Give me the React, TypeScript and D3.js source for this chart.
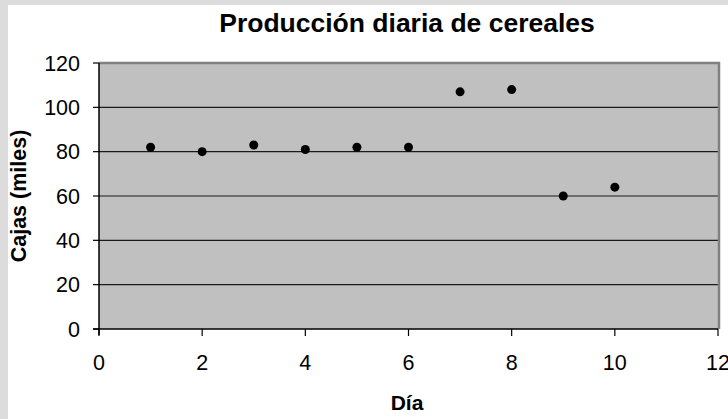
import React from "react";
import * as d3 from "d3";

const days = [1, 2, 3, 4, 5, 6, 7, 8, 9, 10];
const boxes = [82, 80, 83, 81, 82, 82, 107, 108, 60, 64];
const xTicks = [0, 2, 4, 6, 8, 10, 12];
const yTicks = [0, 20, 40, 60, 80, 100, 120];
const title = "Producción diaria de cereales";
const xTitle = "Día";
const yTitle = "Cajas (miles)";

export default function App() {
  const W = 728, H = 419;
  const left = 99, right = 718, top = 63, bottom = 329;
  const x = d3.scaleLinear().domain([0, 12]).range([left, right]);
  const y = d3.scaleLinear().domain([0, 120]).range([bottom, top]);
  const font = "'Liberation Sans', Arial, Helvetica, sans-serif";
  return (
    <svg width={W} height={H} style={{ position: "absolute", left: 0, top: 0 }} fontFamily={font}>
      <rect x={0} y={0} width={W} height={H} fill="#ffffff" />
      <rect x={0} y={0} width={8} height={H} fill="#dcdcdc" />
      <rect x={0} y={0} width={W} height={5} fill="#dcdcdc" />
      <text x={407} y={32} textAnchor="middle" fontSize={26.5} fontWeight="bold" fill="#000">{title}</text>
      <rect x={left} y={top} width={right - left} height={bottom - top} fill="#c0c0c0" />
      {yTicks.filter(t => t > 0 && t < 120).map(t => (
        <line key={t} x1={left} x2={right} y1={y(t)} y2={y(t)} stroke="#1a1a1a" strokeWidth={1.2} />
      ))}
      <path d={`M${left},${top}H${right + 1}V${bottom}`} fill="none" stroke="#808080" strokeWidth={2.5} />
      <line x1={left} x2={left} y1={top} y2={bottom + 6} stroke="#000" strokeWidth={1.5} />
      <line x1={left - 6} x2={right} y1={bottom} y2={bottom} stroke="#000" strokeWidth={1.5} />
      {yTicks.map(t => (
        <g key={t}>
          <line x1={left - 6} x2={left} y1={y(t)} y2={y(t)} stroke="#000" strokeWidth={1.2} />
          <text x={left - 19} y={y(t)} dy="0.36em" textAnchor="end" fontSize={21.5} fill="#000">{t}</text>
        </g>
      ))}
      {xTicks.map(t => (
        <g key={t}>
          <line x1={x(t)} x2={x(t)} y1={bottom} y2={bottom + 7} stroke="#000" strokeWidth={1.2} />
          <text x={x(t)} y={370} textAnchor="middle" fontSize={21.5} fill="#000">{t}</text>
        </g>
      ))}
      {days.map((d, i) => (
        <circle key={d} cx={x(d)} cy={y(boxes[i])} r={4.5} fill="#000" />
      ))}
      <text x={407} y={410} textAnchor="middle" fontSize={21} fontWeight="bold" fill="#000">{xTitle}</text>
      <text transform={`translate(26,${(top + bottom) / 2}) rotate(-90)`} textAnchor="middle" fontSize={21.5} fontWeight="bold" fill="#000">{yTitle}</text>
    </svg>
  );
}
